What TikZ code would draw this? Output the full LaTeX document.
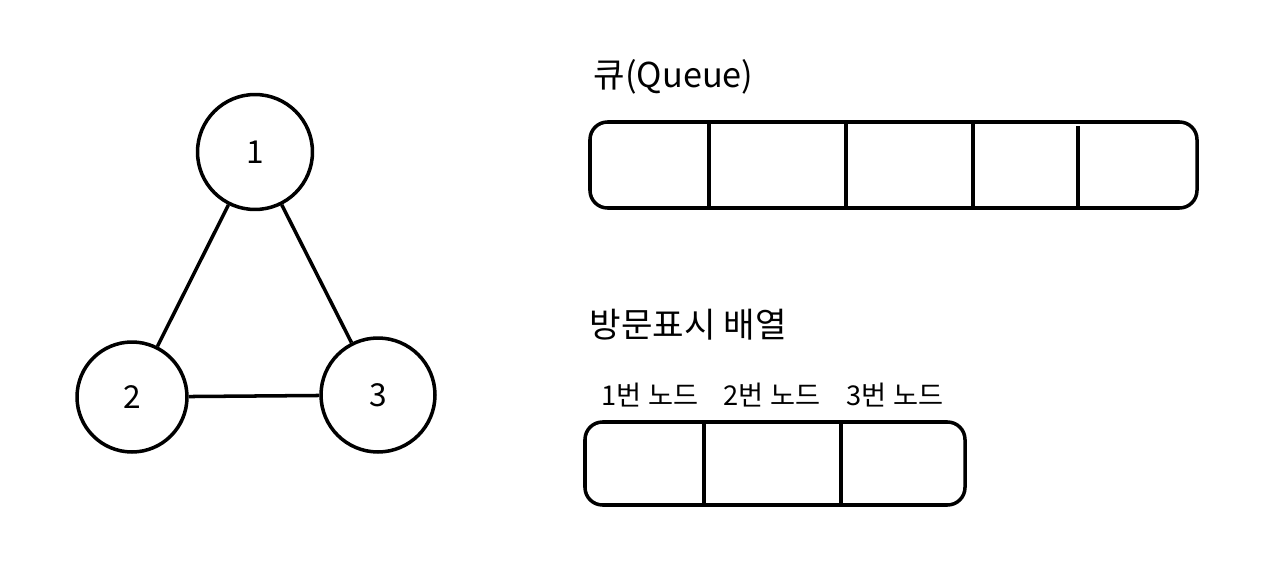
\documentclass[tikz,border=0pt]{standalone}
\usepackage{fontspec}
\setmainfont{Noto Sans CJK KR}
\usetikzlibrary{positioning}

\begin{document}
\begin{tikzpicture}[x=0.02cm,y=-0.02cm,line width=2pt]
  \tikzset{vertex/.style={draw,circle,minimum size=2.3cm,inner sep=0pt,font=\fontsize{18}{22}\selectfont},
    title/.style={anchor=west,inner sep=0pt,font=\fontsize{19.5}{23}\selectfont},
    cellname/.style={anchor=west,inner sep=0pt,font=\fontsize{15.5}{18}\selectfont}}
  \useasboundingbox (0,0) rectangle (1262,568);
  % graph
  \node[vertex] (n1) at (255,152) {1};
  \node[vertex,minimum size=2.2cm] (n2) at (132,397) {2};
  \node[vertex,minimum size=2.28cm] (n3) at (378,395) {3};
  \draw (n1) -- (n2);
  \draw (n1) -- (n3);
  \draw (n2) -- (n3);
  % queue
  \node[title] (qlabel) at (592,77) {큐(Queue)};
  \draw[rounded corners=10pt] (590,122) rectangle (1197,208);
  \draw (709,124) -- (709,208) (846,122) -- (846,206) (973,122) -- (973,206) (1078,126) -- (1078,208);
  % visited array
  \node[title] (vlabel) at (588,325) {방문표시 배열};
  \node[cellname] (c1) at (600,395) {1번 노드};
  \node[cellname] (c2) at (722,395) {2번 노드};
  \node[cellname] (c3) at (845,395) {3번 노드};
  \draw[rounded corners=10pt] (585,422) rectangle (965,505);
  \draw (704,424) -- (704,505) (841,424) -- (841,503);
\end{tikzpicture}
\end{document}
